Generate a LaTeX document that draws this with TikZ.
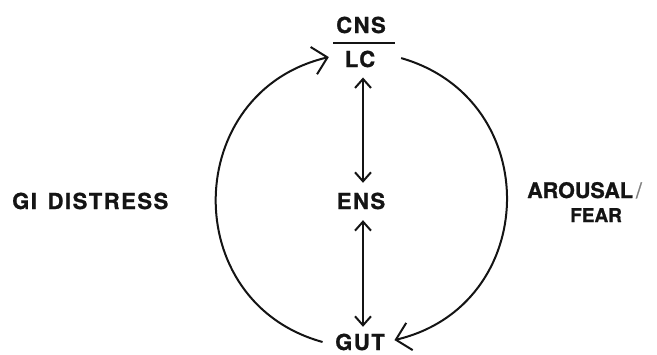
\documentclass[tikz,border=0pt]{standalone}
\usepackage{fontspec}
\usetikzlibrary{arrows.meta}
\newfontfamily\lblfont[LetterSpace=7,FakeBold=1]{TeX Gyre Heros}
\newfontfamily\lblfontplain[FakeBold=1]{TeX Gyre Heros}
\definecolor{ink}{gray}{0.08}
\begin{document}
\begin{tikzpicture}[x=1pt,y=-1pt,
  lbl/.style={font={\lblfont\fontsize{22}{26}\bfseries}, text=ink, inner sep=0pt, anchor=base},
  conn/.style={draw=ink, line width=2pt},
  bigtip/.style={-{Straight Barb[length=14pt,width=28pt]}},
  dbl/.style={{Straight Barb[length=9pt,width=16pt]}-{Straight Barb[length=9pt,width=16pt]}},
]
\useasboundingbox (0,0) rectangle (657,354);
\node[lbl] (cns) at (361,33) {CNS};
\node[lbl] (lc) at (360,67) {LC};
\node[lbl] (ens) at (361,209) {ENS};
\node[lbl] (gut) at (360,350) {GUT};
\node[lbl, anchor=base west] (gi) at (12,209) {GI\kern3pt{} DISTRESS};
\node[lbl, anchor=base west, font={\lblfontplain\fontsize{21.5}{26}\bfseries}] (arousal) at (527,198) {AROUSAL\kern3pt{\color{ink!55}\mdseries/}};
\node[lbl, anchor=base west, font={\lblfontplain\fontsize{19}{23}\bfseries}] (fear) at (570,222) {FEAR};
\draw[conn] (333,43) -- (395,43);
\draw[conn, bigtip] ([shift={(-12.5,0)}]gut.west) .. controls +(-145.6,-40.2) and +(-146.9,34.7) .. ([shift={(-15.8,-1.9)}]lc.west);
\draw[conn, bigtip] ([shift={(25.8,-0.9)}]lc.east) .. controls +(144.3,41.5) and +(146.1,-34.8) .. ([shift={(9.5,-1.9)}]gut.east);
\draw[conn, dbl] ([shift={(3,10)}]lc.south) -- ([shift={(2,-9.7)}]ens.north);
\draw[conn, dbl] ([shift={(2,10.7)}]ens.south) -- ([shift={(3,-6.7)}]gut.north);
\end{tikzpicture}
\end{document}
